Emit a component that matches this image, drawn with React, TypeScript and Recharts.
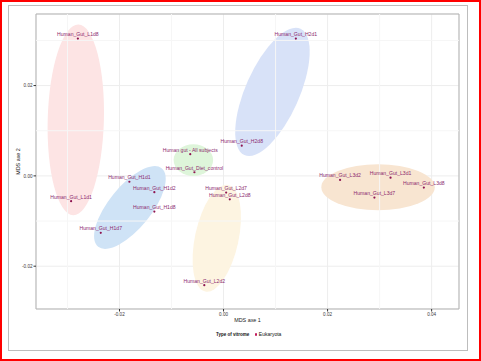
import React from 'react';
import * as RC from 'recharts';
import {
  ScatterChart, Scatter, XAxis, YAxis, CartesianGrid,
  ReferenceLine, ReferenceArea, Customized, Legend,
} from 'recharts';

// samples on the two MDS axes
const sampleNames = [
  'Human_Gut_L1d8', 'Human_Gut_H2d1', 'Human_Gut_H2d8', 'Human gut - All subjects',
  'Human_Gut_Diet_control', 'Human_Gut_H1d1', 'Human_Gut_H1d2', 'Human_Gut_H1d8',
  'Human_Gut_H1d7', 'Human_Gut_L1d1', 'Human_Gut_L2d7', 'Human_Gut_L2d8',
  'Human_Gut_L2d2', 'Human_Gut_L3d2', 'Human_Gut_L3d1', 'Human_Gut_L3d8', 'Human_Gut_L3d7',
];
const mdsAxe1 = [
  -0.0280, 0.0139, 0.0035, -0.0064, -0.0056, -0.0181, -0.0133, -0.0133,
  -0.0236, -0.0293, 0.0005, 0.0012, -0.0037, 0.0224, 0.0321, 0.0385, 0.0290,
];
const mdsAxe2 = [
  0.0304, 0.0304, 0.0067, 0.0048, 0.0008, -0.0013, -0.0036, -0.0079,
  -0.0126, -0.0056, -0.0037, -0.0052, -0.0242, -0.0009, -0.0004, -0.0026, -0.0048,
];

const xTicks = [-0.02, 0, 0.02, 0.04];
const yTicks = [-0.02, 0, 0.02];
const xMinor = [-0.03, -0.01, 0.01, 0.03];
const yMinor = [-0.01, 0.01, 0.03];

// group ellipses: centre and the ends of both semi-axes, in MDS units
const groupNames = ['L1', 'H2', 'H1', 'L2', 'L3', 'All'];
const ellipseCentre = [
  [-0.0284, 0.0124], [0.0094, 0.0186], [-0.0180, -0.0070],
  [-0.0013, -0.0138], [0.0297, -0.0025], [-0.0058, 0.0035],
];
const ellipseEndA = [
  [-0.0279, 0.0335], [0.0148, 0.0326], [-0.0119, 0.0017],
  [0.0009, -0.0020], [0.0406, -0.0025], [-0.0020, 0.0035],
];
const ellipseEndB = [
  [-0.0230, 0.0122], [0.0141, 0.0161], [-0.0148, -0.0099],
  [0.0028, -0.0148], [0.0297, 0.0026], [-0.0058, 0.0070],
];
const ellipseFill = ['#fde4e4', '#d8e2f8', '#cfe3f6', '#fdf4e1', '#f8e5d1', '#def5da'];

const X_DOMAIN: [number, number] = [-0.03605, 0.04526];
const Y_DOMAIN: [number, number] = [-0.02948, 0.03585];

const samples = sampleNames.map((name, i) => ({ name, x: mdsAxe1[i], y: mdsAxe2[i] }));

const FONT = '"Liberation Sans", Arial, sans-serif';
const lib = RC as any;

function EllipseLayer() {
  const xs = typeof lib.useXAxisScale === 'function' ? lib.useXAxisScale() : undefined;
  const ys = typeof lib.useYAxisScale === 'function' ? lib.useYAxisScale() : undefined;
  const area = typeof lib.usePlotArea === 'function' ? lib.usePlotArea() : undefined;
  const plot = area || { x: 36, y: 14, width: 423, height: 295 };

  const sx = (v: number) =>
    typeof xs === 'function'
      ? xs(v)
      : plot.x + ((v - X_DOMAIN[0]) / (X_DOMAIN[1] - X_DOMAIN[0])) * plot.width;
  const sy = (v: number) =>
    typeof ys === 'function'
      ? ys(v)
      : plot.y + ((Y_DOMAIN[1] - v) / (Y_DOMAIN[1] - Y_DOMAIN[0])) * plot.height;

  return (
    <g className="group-ellipses">
      {groupNames.map((g, i) => {
        const cx = sx(ellipseCentre[i][0]);
        const cy = sy(ellipseCentre[i][1]);
        const ax = sx(ellipseEndA[i][0]) - cx;
        const ay = sy(ellipseEndA[i][1]) - cy;
        const bx = sx(ellipseEndB[i][0]) - cx;
        const by = sy(ellipseEndB[i][1]) - cy;
        return (
          <ellipse
            key={g}
            cx={0}
            cy={0}
            rx={1}
            ry={1}
            fill={ellipseFill[i]}
            transform={`matrix(${ax} ${ay} ${bx} ${by} ${cx} ${cy})`}
          />
        );
      })}
    </g>
  );
}

// point plus its sample name just above it
const SamplePoint = (p: any) => {
  if (p.cx == null || p.cy == null) return null;
  return (
    <g>
      <circle cx={p.cx} cy={p.cy} r={1.1} fill="#8e1450" />
      <text
        x={p.cx}
        y={p.cy - 2.6}
        textAnchor="middle"
        fontSize={5.1}
        fill="#8b2a6e"
        fontFamily={FONT}
      >
        {p.payload.name}
      </text>
    </g>
  );
};

const renderLegend = () => (
  <div style={{ height: 30, width: 481, boxSizing: 'border-box', paddingLeft: 216, fontFamily: FONT }}>
    <div style={{ display: 'flex', alignItems: 'center', height: 7, lineHeight: '7px', color: '#111' }}>
      <span style={{ fontSize: 4.5, fontWeight: 'bold' }}>Type of vitrome</span>
      <span style={{ width: 2.2, height: 2.2, borderRadius: '50%', background: '#c2185b', marginLeft: 5.6, display: 'inline-block' }} />
      <span style={{ fontSize: 5, marginLeft: 1.9 }}>Eukaryota</span>
    </div>
  </div>
);

export default function App() {
  return (
    <div style={{ position: 'absolute', left: 0, top: 0, width: 481, height: 361, background: '#fff', fontFamily: FONT }}>
      <div style={{ position: 'absolute', left: 8, top: 5, width: 460, height: 346, border: '1px solid #bdbdbd', boxSizing: 'border-box' }} />
      <div style={{ position: 'absolute', left: 0, top: 0 }}>
        <ScatterChart width={481} height={361} margin={{ top: 14, right: 22, bottom: 0, left: 0 }}>
          <CartesianGrid stroke="#ededed" />
          {xMinor.map((v) => (
            <ReferenceLine key={'x' + v} x={v} stroke="#f6f6f6" />
          ))}
          {yMinor.map((v) => (
            <ReferenceLine key={'y' + v} y={v} stroke="#f6f6f6" />
          ))}
          <XAxis
            type="number"
            dataKey="x"
            domain={X_DOMAIN}
            ticks={xTicks}
            allowDataOverflow
            tickFormatter={(v: number) => v.toFixed(2)}
            height={22}
            axisLine={false}
            tickSize={2.5}
            tickMargin={1.3}
            tickLine={{ stroke: '#333' }}
            tick={{ fontSize: 4.6, fill: '#3a3a3a' }}
            label={{ value: 'MDS axe 1', position: 'insideTop', offset: 9, fontSize: 5.4, fill: '#1a1a1a' }}
          />
          <YAxis
            type="number"
            dataKey="y"
            domain={Y_DOMAIN}
            ticks={yTicks}
            allowDataOverflow
            tickFormatter={(v: number) => v.toFixed(2)}
            width={36}
            axisLine={false}
            tickSize={2.5}
            tickMargin={1}
            tickLine={{ stroke: '#333' }}
            tick={{ fontSize: 4.6, fill: '#3a3a3a' }}
            label={{ value: 'MDS axe 2', angle: -90, position: 'center', fontSize: 5.4, fill: '#1a1a1a' }}
          />
          <Customized component={EllipseLayer} />
          <Scatter
            name="Eukaryota"
            data={samples}
            fill="#8e1450"
            shape={SamplePoint}
            isAnimationActive={false}
          />
          <ReferenceArea
            x1={X_DOMAIN[0]}
            x2={X_DOMAIN[1]}
            y1={Y_DOMAIN[0]}
            y2={Y_DOMAIN[1]}
            fill="none"
            stroke="#b3b3b3"
            ifOverflow="visible"
          />
          <Legend
            verticalAlign="bottom"
            content={renderLegend}
            wrapperStyle={{ left: 0, width: 481, margin: 0, padding: 0 }}
          />
        </ScatterChart>
      </div>
      <div style={{ position: 'absolute', left: 0, top: 0, width: 481, height: 361, border: '2px solid #ff0000', boxSizing: 'border-box', pointerEvents: 'none' }} />
    </div>
  );
}
